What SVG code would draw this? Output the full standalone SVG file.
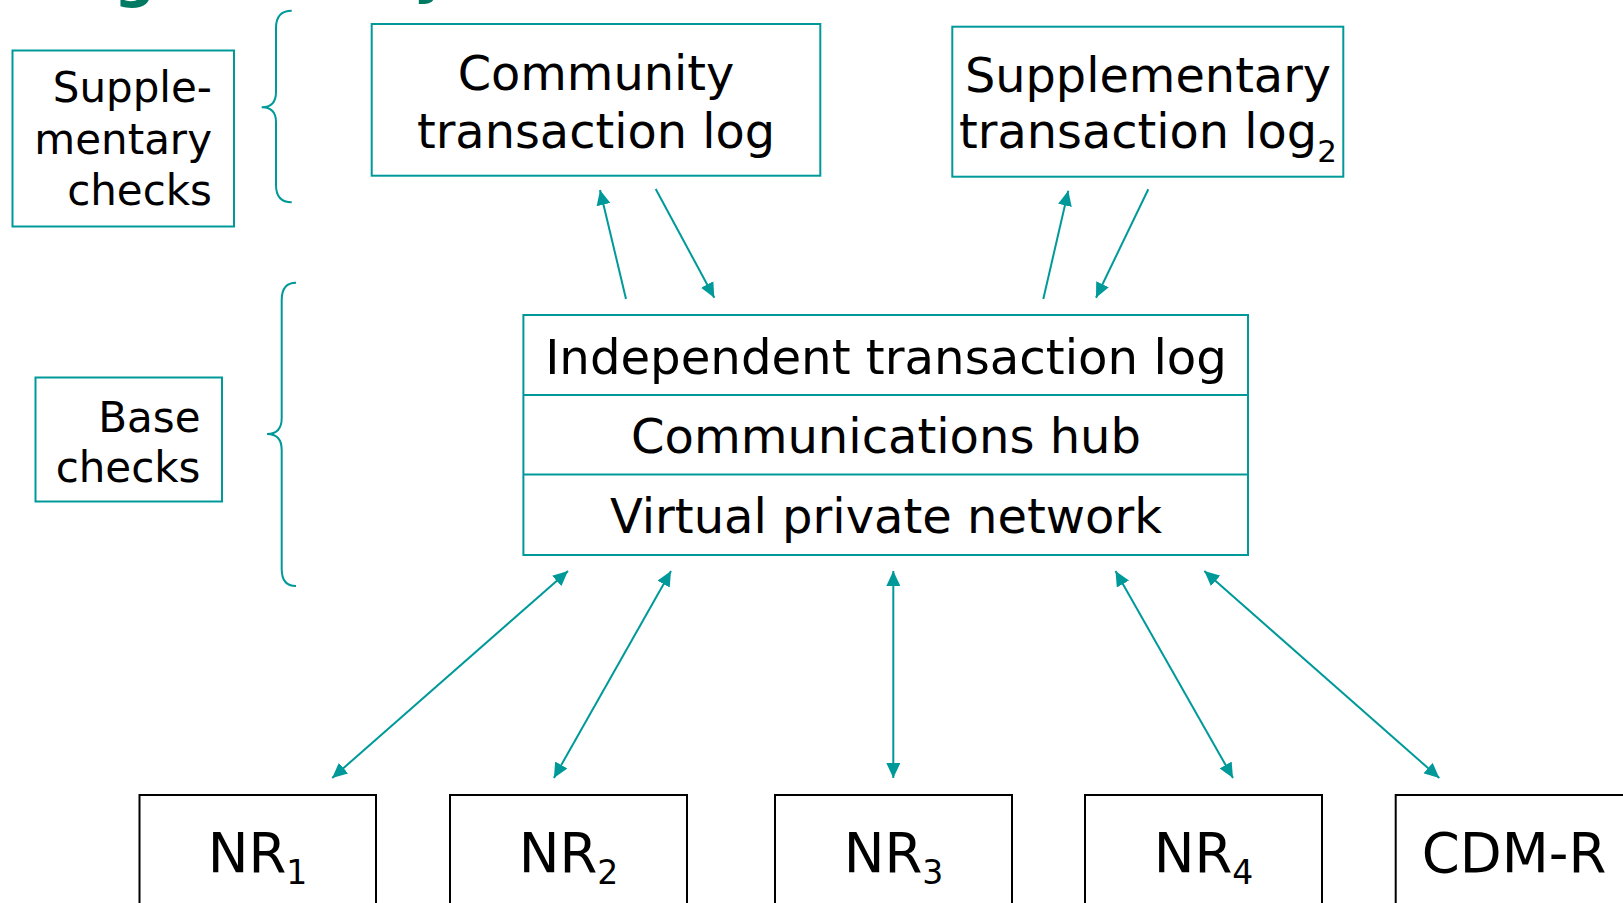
<svg xmlns="http://www.w3.org/2000/svg" width="1623" height="903" viewBox="0 0 1623 903">
<style>
.t{font-family:"DejaVu Sans","Liberation Sans",sans-serif;fill:#000}
.box{fill:#fff;stroke:#00999A;stroke-width:2}
.nbox{fill:#fff;stroke:#000;stroke-width:2}
.brace{fill:none;stroke:#00999A;stroke-width:2}
.con{stroke:#00999A;stroke-width:2;fill:none}
.title{font-family:"DejaVu Sans","Liberation Sans",sans-serif;font-weight:bold;fill:#007A63}
</style>
<defs>
<marker id="ah" viewBox="0 0 15 14" refX="15" refY="7" markerWidth="15" markerHeight="14" markerUnits="userSpaceOnUse" orient="auto-start-reverse">
<path d="M0,0 L15,7 L0,14 z" fill="#00999A"/>
</marker>
</defs>
<rect width="1623" height="903" fill="#fff"/>
<g id="title">
<text class="title" x="114" y="-4" font-size="58">g</text>
<text class="title" x="413" y="-8" font-size="58">y</text>
</g>
<g id="supplementary-checks">
<rect class="box" x="12.5" y="50.5" width="221.5" height="176"/>
<text class="t" font-size="42" text-anchor="end"><tspan x="212" y="101.5">Supple-</tspan><tspan x="212" y="153.5">mentary</tspan><tspan x="212" y="205">checks</tspan></text>
</g>
<g id="brace-supplementary">
<path class="brace" d="M291.7,10.7 Q276,10.7 276,28 L276,92 Q276,107.3 261.7,107.3 Q276,107.3 276,122 L276,185 Q276,202.3 291.7,202.3"/>
</g>
<g id="base-checks">
<rect class="box" x="35.5" y="377.5" width="186.5" height="124"/>
<text class="t" font-size="42" text-anchor="end"><tspan x="200.5" y="431.5">Base</tspan><tspan x="200.5" y="481.5">checks</tspan></text>
</g>
<g id="brace-base">
<path class="brace" d="M296,282.7 Q281.7,282.7 281.7,300 L281.7,418 Q281.7,434 267,434 Q281.7,434 281.7,450 L281.7,569 Q281.7,586 296,586"/>
</g>
<g id="community-log">
<rect class="box" x="371.7" y="24" width="448.6" height="151.7"/>
<text class="t" font-size="47.8" text-anchor="middle"><tspan x="596" y="90">Community</tspan><tspan x="596" y="147.5">transaction log</tspan></text>
</g>
<g id="supplementary-log">
<rect class="box" x="952.3" y="26.7" width="391" height="150"/>
<text class="t" font-size="47.8" text-anchor="middle" x="1148" y="91.5">Supplementary</text>
<text class="t" font-size="47.8" text-anchor="middle" x="1148" y="147.5">transaction log<tspan font-size="31" dy="14">2</tspan></text>
</g>
<g id="itl-stack">
<rect class="box" x="523.4" y="315" width="724.6" height="240"/>
<line class="con" x1="523.4" y1="395" x2="1248" y2="395"/>
<line class="con" x1="523.4" y1="474.5" x2="1248" y2="474.5"/>
<text class="t" font-size="48.2" text-anchor="middle" x="886" y="374">Independent transaction log</text>
<text class="t" font-size="48" text-anchor="middle" x="886" y="453.3">Communications hub</text>
<text class="t" font-size="48" text-anchor="middle" x="886" y="533.3">Virtual private network</text>
</g>
<g id="nr1">
<rect class="nbox" x="139.5" y="795" width="236.5" height="140"/>
<text class="t" font-size="54.5" text-anchor="middle" x="257.5" y="872.3">NR<tspan font-size="33" dy="12">1</tspan></text>
</g>
<g id="nr2">
<rect class="nbox" x="450" y="795" width="237" height="140"/>
<text class="t" font-size="54.5" text-anchor="middle" x="568.5" y="872.3">NR<tspan font-size="33" dy="12">2</tspan></text>
</g>
<g id="nr3">
<rect class="nbox" x="775" y="795" width="237" height="140"/>
<text class="t" font-size="54.5" text-anchor="middle" x="893.5" y="872.3">NR<tspan font-size="33" dy="12">3</tspan></text>
</g>
<g id="nr4">
<rect class="nbox" x="1085" y="795" width="237" height="140"/>
<text class="t" font-size="54.5" text-anchor="middle" x="1203.5" y="872.3">NR<tspan font-size="33" dy="12">4</tspan></text>
</g>
<g id="cdm-r">
<rect class="nbox" x="1395.7" y="795" width="237" height="140"/>
<text class="t" font-size="54.5" text-anchor="middle" x="1514" y="872.3">CDM-R</text>
</g>
<g id="connectors">
<line class="con" x1="626" y1="299" x2="600" y2="190" marker-end="url(#ah)"/>
<line class="con" x1="655.7" y1="189" x2="714.3" y2="297.7" marker-end="url(#ah)"/>
<line class="con" x1="1043.3" y1="299" x2="1068.3" y2="190.7" marker-end="url(#ah)"/>
<line class="con" x1="1148.3" y1="189.3" x2="1096" y2="297.7" marker-end="url(#ah)"/>
<line class="con" x1="332.2" y1="778" x2="568" y2="571" marker-start="url(#ah)" marker-end="url(#ah)"/>
<line class="con" x1="553.9" y1="778" x2="671" y2="571" marker-start="url(#ah)" marker-end="url(#ah)"/>
<line class="con" x1="893.3" y1="778" x2="893.3" y2="571" marker-start="url(#ah)" marker-end="url(#ah)"/>
<line class="con" x1="1233" y1="778" x2="1115.5" y2="571" marker-start="url(#ah)" marker-end="url(#ah)"/>
<line class="con" x1="1439.3" y1="778" x2="1204.3" y2="571" marker-start="url(#ah)" marker-end="url(#ah)"/>
</g>
</svg>
